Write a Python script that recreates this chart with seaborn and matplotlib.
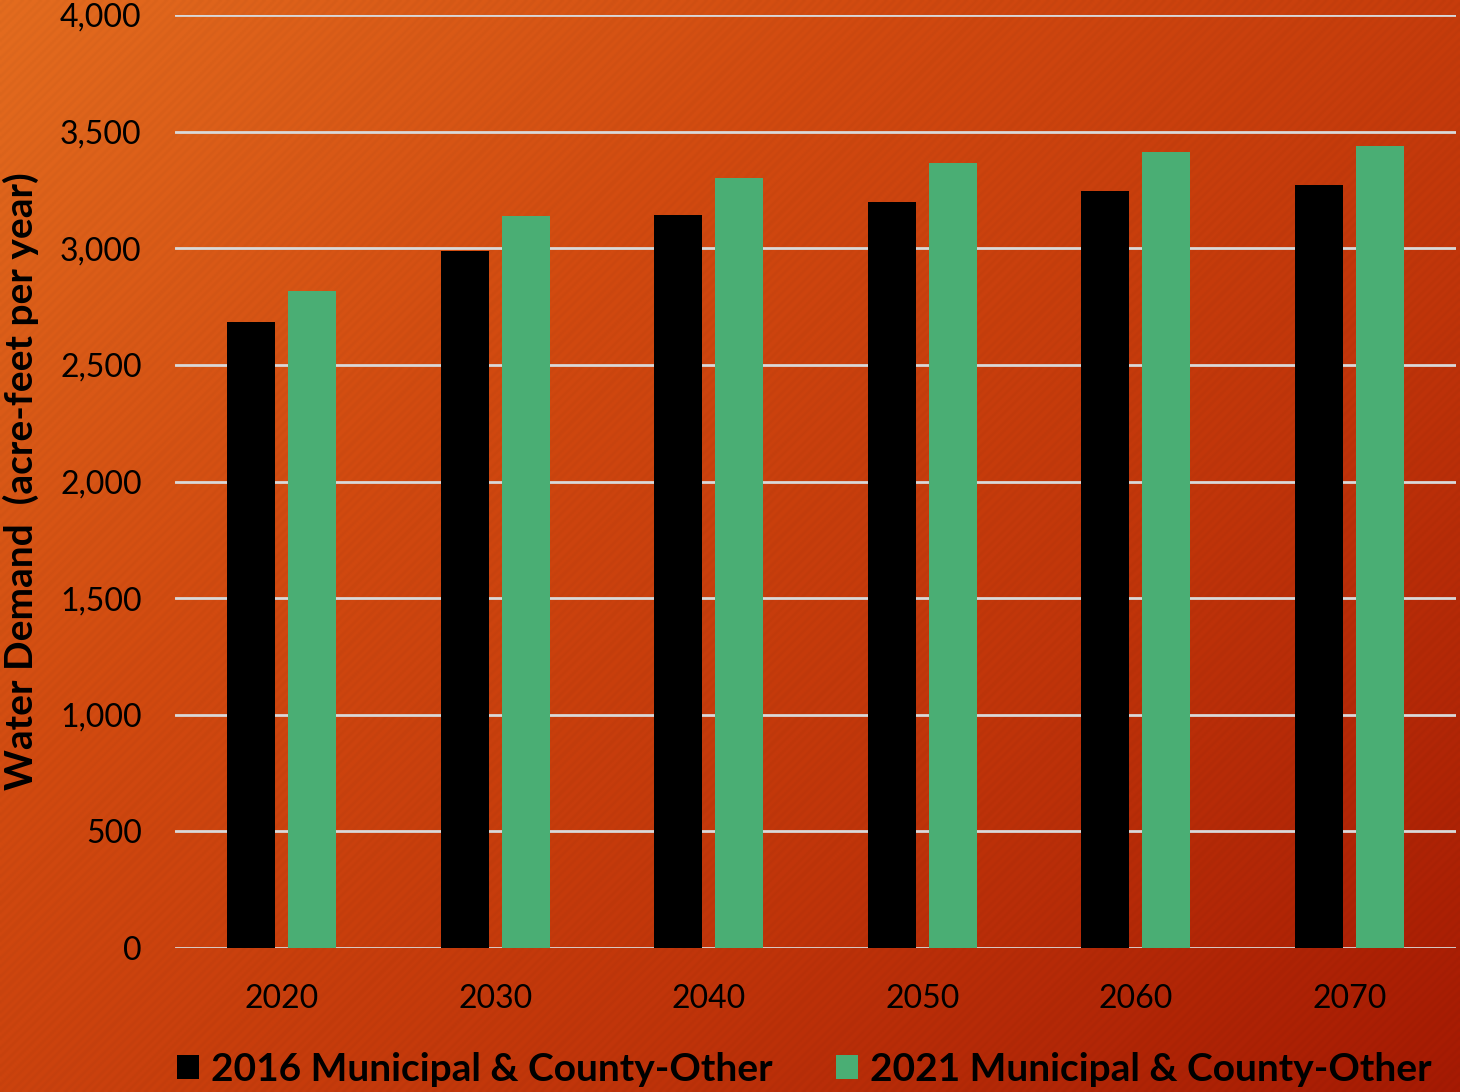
import numpy as np
import pandas as pd
import matplotlib
matplotlib.use("Agg")
import matplotlib.pyplot as plt
import seaborn as sns
from matplotlib.colors import LinearSegmentedColormap
from matplotlib.patches import Patch

years = ["2020", "2030", "2040", "2050", "2060", "2070"]
demand_2016 = [2684, 2988, 3142, 3198, 3245, 3271]
demand_2021 = [2817, 3138, 3301, 3365, 3413, 3438]
series = ["2016 Municipal & County-Other", "2021 Municipal & County-Other"]
colors = ["#000000", "#4aae74"]

df = pd.DataFrame({
    "year": years * 2,
    "demand": demand_2016 + demand_2021,
    "series": [series[0]] * len(years) + [series[1]] * len(years),
})

sns.set_theme(style="white")
plt.rcParams["font.family"] = ["Lato", "DejaVu Sans"]
plt.rcParams["text.color"] = "black"

fig = plt.figure(figsize=(14.6, 10.92), dpi=100)

# gradient background with faint diagonal stripes
bg = fig.add_axes([0, 0, 1, 1], zorder=-10)
h, w = 546, 730
yy, xx = np.mgrid[0:h, 0:w]
t = (xx / w * 0.55 + yy / h * 0.45)
stripes = 0.03 * (np.sin((xx + yy) * 2 * np.pi / 4.5) > 0)
cmap = LinearSegmentedColormap.from_list("bg", ["#e46c1f", "#d24a10", "#c1350a", "#a61a03"])
rgb = cmap(np.clip(t, 0, 1))[..., :3] * (1 - stripes[..., None])
bg.imshow(rgb, aspect="auto", extent=[0, 1, 0, 1], interpolation="bilinear")
bg.axis("off")

ax = fig.add_axes([175 / 1460, 1 - 948 / 1092, (1456 - 175) / 1460, (948 - 15) / 1092])
ax.patch.set_alpha(0)
sns.barplot(data=df, x="year", y="demand", hue="series", palette=colors,
            width=0.571, gap=0.213, saturation=1, edgecolor="none", linewidth=0,
            ax=ax, legend=False, zorder=3)

ax.set_ylim(0, 4000)
ax.set_yticks(range(0, 4001, 500))
ax.set_yticklabels([f"{v:,}" for v in range(0, 4001, 500)])
ax.yaxis.grid(True, color="#d9d9d9", linewidth=2)
ax.set_axisbelow(True)
for s in ax.spines.values():
    s.set_visible(False)
ax.tick_params(axis="both", length=0, labelsize=23, colors="black")
ax.tick_params(axis="y", pad=24)
ax.tick_params(axis="x", pad=26)
ax.set_xlabel("")
ax.set_ylabel("Water Demand  (acre-feet per year)", fontsize=28, fontweight="bold",
              color="black")
ax.yaxis.set_label_coords(-0.106, 0.5)

handles = [Patch(facecolor=c, edgecolor="none") for c in colors]
leg = fig.legend(handles, series, loc="center", bbox_to_anchor=(0.551, 0.021), ncol=2,
                 frameon=False, prop={"size": 28, "weight": "bold"}, handlelength=0.57,
                 handleheight=0.57, handletextpad=0.31, columnspacing=1.62)
for txt in leg.get_texts():
    txt.set_color("black")

fig.savefig("out.png", dpi=100)
